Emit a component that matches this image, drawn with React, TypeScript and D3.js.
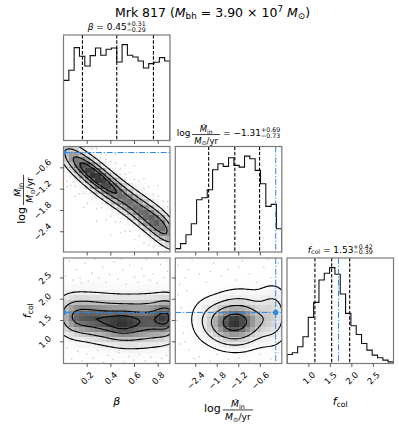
import React from 'react';
import * as d3 from 'd3';

// 1D marginal histograms (20 bins each)
const betaHist = [180, 210, 278, 252, 223, 254, 277, 255, 273, 277, 235, 287, 255, 250, 238, 217, 230, 234, 248, 238];
const mdotHist = [10, 25, 52, 85, 157, 163, 187, 247, 265, 257, 283, 260, 255, 288, 280, 245, 205, 137, 143, 70];
const fcolHist = [27, 32, 50, 80, 138, 183, 250, 270, 287, 267, 208, 150, 113, 87, 60, 40, 25, 17, 10, 5];

// axis ranges & ticks
const betaRange = [0, 0.9];
const mdotRange = [-2.97, 0];
const fcolRange = [0.49, 2.97];
const betaTicks = [0.2, 0.4, 0.6, 0.8];
const mdotTicks = [-2.4, -1.8, -1.2, -0.6];
const fcolTicks = [1.0, 1.5, 2.0, 2.5];

// 16/50/84 quantiles shown as dashed lines
const betaQuant = [0.16, 0.45, 0.76];
const mdotQuant = [-2.04, -1.31, -0.62];
const fcolQuant = [1.14, 1.53, 1.95];

// truth values (blue)
const truthBeta = 0.0;
const truthMdot = -0.17;
const truthFcol = 1.69;

// 2D posterior shapes as blobs: [mx, my, sx, sy, rho, weight]
const betaMdotBlobs = [
  [0.03, -0.23, 0.1, 0.417, -0.61, 0.7],
  [0.17, -0.58, 0.1, 0.417, -0.61, 1.0],
  [0.31, -0.94, 0.1, 0.417, -0.61, 1.1],
  [0.46, -1.32, 0.1, 0.417, -0.61, 0.95],
  [0.62, -1.73, 0.1, 0.43, -0.6, 0.95],
  [0.76, -2.09, 0.1, 0.44, -0.59, 0.85],
  [0.88, -2.39, 0.1, 0.44, -0.59, 1.0],
];
const betaFcolBlobs = [
  [0.04, 1.6, 0.1, 0.36, 0, 0.7],
  [0.17, 1.56, 0.11, 0.34, 0, 0.9],
  [0.32, 1.5, 0.11, 0.36, 0, 0.9],
  [0.48, 1.44, 0.11, 0.34, 0, 1.05],
  [0.63, 1.47, 0.11, 0.36, 0, 0.9],
  [0.78, 1.52, 0.1, 0.36, 0, 0.85],
  [0.9, 1.58, 0.08, 0.34, 0, 0.8],
  [0.45, 1.95, 0.45, 0.5, 0, 1.5],
  [0.7, 1.0, 0.25, 0.3, 0, 0.4],
];
const mdotFcolBlobs = [
  [-1.55, 1.45, 0.4, 0.3, 0, 0.6],
  [-1.0, 1.48, 0.4, 0.32, 0, 0.55],
  [-1.2, 1.95, 0.7, 0.45, 0, 0.35],
  [-2.25, 1.55, 0.35, 0.4, 0, 0.15],
  [-0.2, 1.62, 0.3, 0.45, 0, 0.4],
  [-1.3, 1.0, 0.6, 0.3, 0, 0.18],
];

// stray samples outside the outer contour
const betaMdotDots = [
  [0.03, -0.98], [0.03, -1.13], [0.06, -1.1], [0.1, -1.12], [0.1, -1.4], [0.13, -1.33],
  [0.17, -1.33], [0.17, -1.72], [0.2, -1.6], [0.24, -1.5], [0.24, -0.06], [0.28, -1.76],
  [0.28, -2.1], [0.28, -0.06], [0.32, -1.72], [0.32, -0.22], [0.36, -2.06], [0.36, -0.22],
  [0.36, -0.37], [0.4, -1.96], [0.4, -2.5], [0.4, -0.42], [0.44, -2.12], [0.44, -0.47],
  [0.44, -0.22], [0.48, -2.12], [0.48, -2.42], [0.48, -0.62], [0.52, -2.38], [0.52, -0.78],
  [0.52, -0.53], [0.56, -2.38], [0.56, -0.73], [0.6, -2.62], [0.6, -0.93], [0.6, -0.55],
  [0.64, -2.52], [0.64, -0.98], [0.68, -2.72], [0.68, -1.18], [0.68, -0.9], [0.72, -2.78],
  [0.72, -1.14], [0.76, -1.34], [0.76, -2.82], [0.8, -1.4], [0.8, -1.1], [0.84, -1.54],
  [0.88, -1.54], [0.88, -1.7],
];
const betaFcolDots = [
  [0.02, 2.55], [0.05, 2.9], [0.08, 2.45], [0.11, 2.7], [0.14, 2.5], [0.18, 2.85], [0.21, 2.42],
  [0.24, 2.62], [0.27, 2.95], [0.3, 2.5], [0.33, 2.75], [0.36, 2.4], [0.39, 2.58], [0.43, 2.88],
  [0.46, 2.47], [0.5, 2.68], [0.53, 2.35], [0.56, 2.8], [0.6, 2.52], [0.63, 2.4], [0.66, 2.72],
  [0.7, 2.93], [0.73, 2.45], [0.76, 2.6], [0.79, 2.38], [0.82, 2.82], [0.85, 2.5], [0.88, 2.66],
  [0.15, 2.38], [0.48, 2.95], [0.68, 2.55], [0.87, 2.9],
  [0.03, 0.85], [0.07, 0.6], [0.12, 0.78], [0.16, 0.55], [0.2, 0.72], [0.25, 0.62], [0.29, 0.8],
  [0.34, 0.52], [0.38, 0.68], [0.42, 0.58], [0.47, 0.75], [0.51, 0.53], [0.55, 0.66], [0.59, 0.57],
  [0.64, 0.7], [0.69, 0.55], [0.74, 0.64], [0.78, 0.52], [0.83, 0.6], [0.87, 0.68], [0.89, 0.55],
];
const mdotFcolDots = [
  [-2.9, 2.8], [-2.7, 2.5], [-2.5, 2.9], [-2.3, 2.6], [-2.1, 2.4], [-1.9, 2.85], [-1.7, 2.55],
  [-1.5, 2.7], [-1.3, 2.45], [-1.1, 2.9], [-0.9, 2.6], [-0.7, 2.4], [-0.5, 2.75], [-0.3, 2.5],
  [-0.1, 2.85], [-2.6, 2.7], [-2.0, 2.65], [-1.2, 2.75], [-0.4, 2.95], [-2.85, 2.35],
  [-2.9, 2.1], [-2.8, 1.8], [-2.92, 1.5], [-2.75, 1.2], [-2.85, 0.95], [-2.65, 2.2], [-2.7, 1.0],
  [-2.6, 0.8], [-2.3, 0.65], [-2.0, 0.55], [-1.8, 0.7], [-1.5, 0.58], [-1.2, 0.62], [-0.9, 0.55],
  [-0.6, 0.7], [-0.3, 0.6], [-0.1, 0.75], [-2.45, 0.6], [-1.0, 0.75], [-0.05, 2.2], [-0.1, 1.0],
];

const FONT = 'DejaVu Sans, sans-serif';
const TRUTH = '#2a8ae6';
const SPINE = '#7a7a7a';

const ranges = [betaRange, mdotRange, fcolRange];
const tickSets = [betaTicks, mdotTicks, fcolTicks];
const hists = [betaHist, mdotHist, fcolHist];
const quants = [betaQuant, mdotQuant, fcolQuant];
const truths = [truthBeta, truthMdot, truthFcol];

const colX = [63.5, 175.3, 287];
const rowY = [35, 146.5, 258];
const PW = 106.5;
const PH = 105.5;

const xScale = (c: number) => d3.scaleLinear().domain(ranges[c]).range([colX[c], colX[c] + PW]);
const yScale = (r: number) => d3.scaleLinear().domain(ranges[r]).range([rowY[r] + PH, rowY[r]]);

const LEVELS = [0.5, 1, 1.5, 2].map((s) => 1 - Math.exp(-0.5 * s * s));
const fmt = d3.format('.1f');

const CW: Record<string, number> = { '.': 0.318, '−': 0.838, '+': 0.838, '=': 0.838, ' ': 0.318 };
const textW = (s: string, fs: number) => [...s].reduce((a, ch) => a + (CW[ch] ?? 0.636), 0) * fs;

function dens(blobs: number[][], x: number, y: number) {
  let s = 0;
  for (const [mx, my, sx, sy, r, w] of blobs) {
    const dx = (x - mx) / sx;
    const dy = (y - my) / sy;
    const q = (dx * dx - 2 * r * dx * dy + dy * dy) / (1 - r * r);
    s += (w / (2 * Math.PI * sx * sy * Math.sqrt(1 - r * r))) * Math.exp(-0.5 * q);
  }
  return s;
}

function Hist1D({ i }: { i: number }) {
  const xs = xScale(i);
  const counts = hists[i];
  const ys = d3.scaleLinear().domain([0, 1.1 * (d3.max(counts) as number)]).range([rowY[i] + PH, rowY[i]]);
  const n = counts.length;
  const [a, b] = ranges[i];
  const edge = (k: number) => a + (k * (b - a)) / n;
  let d = `M${xs(edge(0))},${ys(0)}`;
  counts.forEach((c, k) => {
    d += `L${xs(edge(k))},${ys(c)}L${xs(edge(k + 1))},${ys(c)}`;
  });
  d += `L${xs(edge(n))},${ys(0)}`;
  const id = `clip-h-${i}`;
  return (
    <g>
      <clipPath id={id}>
        <rect x={colX[i]} y={rowY[i]} width={PW} height={PH} />
      </clipPath>
      <g clipPath={`url(#${id})`}>
        <path d={d} fill="none" stroke="#111" strokeWidth={1.1} />
        {quants[i].map((q) => (
          <line key={q} x1={xs(q)} x2={xs(q)} y1={rowY[i]} y2={rowY[i] + PH} stroke="#000" strokeWidth={1.1} strokeDasharray="3.5,1.8" />
        ))}
        <line x1={xs(truths[i])} x2={xs(truths[i])} y1={rowY[i]} y2={rowY[i] + PH} stroke={TRUTH} strokeWidth={1} strokeDasharray="6,1.8,1.2,1.8" />
      </g>
      <rect x={colX[i]} y={rowY[i]} width={PW} height={PH} fill="none" stroke={SPINE} strokeWidth={1.2} />
    </g>
  );
}

function Panel2D({ col, row, blobs, dots }: { col: number; row: number; blobs: number[][]; dots: number[][] }) {
  const xs = xScale(col);
  const ys = yScale(row);
  const [xa, xb] = ranges[col];
  const [ya, yb] = ranges[row];
  const N = 80;
  const pad = 0.2;
  const gx0 = xa - pad * (xb - xa);
  const gdx = ((xb - xa) * (1 + 2 * pad)) / N;
  const gy0 = ya - pad * (yb - ya);
  const gdy = ((yb - ya) * (1 + 2 * pad)) / N;
  const vals: number[] = new Array(N * N);
  const inside: number[] = [];
  for (let j = 0; j < N; j++) {
    for (let i = 0; i < N; i++) {
      const x = gx0 + (i + 0.5) * gdx;
      const y = gy0 + (j + 0.5) * gdy;
      const v = dens(blobs, x, y);
      vals[j * N + i] = v;
      if (x >= xa && x <= xb && y >= ya && y <= yb) inside.push(v);
    }
  }
  inside.sort((p, q) => q - p);
  const tot = d3.sum(inside);
  const cum: number[] = [];
  let acc = 0;
  inside.forEach((v) => {
    acc += v;
    cum.push(acc / tot);
  });
  const V = LEVELS.map((L) => {
    let k = 0;
    while (k < cum.length && cum[k] <= L) k++;
    return inside[Math.max(k - 1, 0)];
  }).sort((p, q) => p - q);

  const contours = d3.contours().size([N, N]).thresholds(V)(vals);
  const proj = d3.geoTransform({
    point(this: any, x: number, y: number) {
      this.stream.point(xs(gx0 + x * gdx), ys(gy0 + y * gdy));
    },
  });
  const path = d3.geoPath(proj);

  // 20x20 density cells
  const NB = 20;
  const cells: { x: number; y: number; v: number }[] = [];
  for (let bj = 0; bj < NB; bj++) {
    for (let bi = 0; bi < NB; bi++) {
      let s = 0;
      for (let u = 0; u < 3; u++) {
        for (let w = 0; w < 3; w++) {
          s += dens(blobs, xa + ((bi + (u + 0.5) / 3) * (xb - xa)) / NB, ya + ((bj + (w + 0.5) / 3) * (yb - ya)) / NB);
        }
      }
      cells.push({ x: bi, y: bj, v: s / 9 });
    }
  }
  const vmax = (d3.max(cells, (c) => c.v) as number) * 1.12;
  const cw = PW / NB;
  const ch = PH / NB;
  const id = `clip-${row}-${col}`;
  return (
    <g>
      <clipPath id={id}>
        <rect x={colX[col]} y={rowY[row]} width={PW} height={PH} />
      </clipPath>
      <g clipPath={`url(#${id})`}>
        {dots.map(([x, y], k) => (
          <circle key={k} cx={xs(x)} cy={ys(y)} r={0.8} fill="#000" fillOpacity={0.22} />
        ))}
        <path d={path(contours[0] as any) || ''} fill="#fff" fillRule="evenodd" />
        <g shapeRendering="crispEdges">
          {cells.map((c, k) => {
            const t = 1 - c.v / vmax;
            const g = Math.round(t * 255);
            return (
              <rect key={k} x={colX[col] + c.x * cw} y={rowY[row] + PH - (c.y + 1) * ch} width={cw} height={ch} fill={`rgb(${g},${g},${g})`} fillOpacity={1 - t} />
            );
          })}
        </g>
        {contours.map((c, k) => (
          <path key={k} d={path(c as any) || ''} fill="none" stroke="#000" strokeWidth={1.1} />
        ))}
        <line x1={xs(truths[col])} x2={xs(truths[col])} y1={rowY[row]} y2={rowY[row] + PH} stroke={TRUTH} strokeWidth={1} strokeDasharray="6,1.8,1.2,1.8" />
        <line x1={colX[col]} x2={colX[col] + PW} y1={ys(truths[row])} y2={ys(truths[row])} stroke={TRUTH} strokeWidth={1} strokeDasharray="6,1.8,1.2,1.8" />
        <circle cx={xs(truths[col])} cy={ys(truths[row])} r={2.6} fill={TRUTH} />
      </g>
      <rect x={colX[col]} y={rowY[row]} width={PW} height={PH} fill="none" stroke={SPINE} strokeWidth={1.2} />
    </g>
  );
}

function logFrac(x0: number, base: number, fs: number, ffs: number) {
  const logW = 1.525 * fs;
  const fx = x0 + logW + 0.17 * fs;
  const fw = 3.3 * ffs;
  const bar = base - 0.16 * fs;
  const el = (
    <g>
      <text x={x0} y={base} fontSize={fs}>log</text>
      <line x1={fx} x2={fx + fw} y1={bar} y2={bar} stroke="#000" strokeWidth={0.75} />
      <text x={fx + fw / 2} y={bar - 0.27 * ffs} fontSize={ffs} textAnchor="middle">
        <tspan fontStyle="italic">Ṁ</tspan>
        <tspan fontSize={ffs * 0.7} dy={0.2 * ffs}>in</tspan>
      </text>
      <text x={fx + fw / 2} y={bar + 1.08 * ffs} fontSize={ffs} textAnchor="middle">
        <tspan fontStyle="italic">M</tspan>
        <tspan fontSize={ffs * 0.7} dy={0.2 * ffs}>⊙</tspan>
        <tspan dy={-0.2 * ffs}>/yr</tspan>
      </text>
    </g>
  );
  return { el, width: logW + 0.17 * fs + fw };
}

function Scripts({ x, y, fs, sup, sub }: { x: number; y: number; fs: number; sup: string; sub: string }) {
  const sfs = fs * 0.7;
  return (
    <g>
      <text x={x} y={y - 0.4 * fs} fontSize={sfs}>{sup}</text>
      <text x={x} y={y + 0.22 * fs} fontSize={sfs}>{sub}</text>
    </g>
  );
}

function Titles() {
  const fs = 9;
  const ffs = 8.5;
  const sw = (a: string, b: string) => Math.max(textW(a, fs * 0.7), textW(b, fs * 0.7));
  // beta
  const bHead = 0.6 * fs + textW(' = 0.45', fs);
  const bTot = bHead + sw('+0.31', '−0.29');
  const bx = colX[0] + PW / 2 - bTot / 2;
  // mdot
  const lf0 = logFrac(0, 0, fs, ffs);
  const mTail = textW(' = −1.31', fs);
  const mTot = lf0.width + mTail + sw('+0.69', '−0.73');
  const mx = colX[1] + PW / 2 - mTot / 2;
  const mBase = 136;
  const lf = logFrac(mx, mBase, fs, ffs);
  // fcol
  const fHead = (0.352 + 1.44 * 0.7) * fs + textW(' = 1.53', fs);
  const fTot = fHead + sw('+0.42', '−0.39');
  const fx = colX[2] + PW / 2 - fTot / 2;
  return (
    <g>
      <text x={bx} y={30} fontSize={fs}>
        <tspan fontStyle="italic">β</tspan> = 0.45
      </text>
      <Scripts x={bx + bHead} y={30} fs={fs} sup="+0.31" sub="−0.29" />
      {lf.el}
      <text x={mx + lf.width} y={mBase} fontSize={fs} style={{ whiteSpace: 'pre' }}>{' = −1.31'}</text>
      <Scripts x={mx + lf.width + mTail} y={mBase} fs={fs} sup="+0.69" sub="−0.73" />
      <text x={fx} y={252.5} fontSize={fs}>
        <tspan fontStyle="italic">f</tspan>
        <tspan fontSize={fs * 0.7} dy={0.2 * fs}>col</tspan>
        <tspan dy={-0.2 * fs}> = 1.53</tspan>
      </text>
      <Scripts x={fx + fHead} y={252.5} fs={fs} sup="+0.42" sub="−0.39" />
    </g>
  );
}

function Axes() {
  const fs = 8.5;
  const bottom = rowY[2] + PH;
  const items: JSX.Element[] = [];
  // bottom tick marks for every panel, left tick marks for 2D panels
  for (let r = 0; r < 3; r++) {
    for (let c = 0; c <= r; c++) {
      const xs = xScale(c);
      const yb = rowY[r] + PH;
      tickSets[c].forEach((t) => {
        items.push(<line key={`bx${r}${c}${t}`} x1={xs(t)} x2={xs(t)} y1={yb} y2={yb + 3.5} stroke="#333" strokeWidth={0.8} />);
      });
      if (c < r) {
        const ys = yScale(r);
        tickSets[r].forEach((t) => {
          items.push(<line key={`ly${r}${c}${t}`} x1={colX[c] - 3.5} x2={colX[c]} y1={ys(t)} y2={ys(t)} stroke="#333" strokeWidth={0.8} />);
        });
      }
    }
  }
  // x tick labels (bottom row)
  for (let c = 0; c < 3; c++) {
    const xs = xScale(c);
    tickSets[c].forEach((t) => {
      const s = fmt(t);
      const side = (textW(s, fs) + 0.73 * fs) / Math.SQRT2;
      items.push(
        <text key={`xl${c}${t}`} transform={`translate(${xs(t)},${bottom + 7.5 + side / 2}) rotate(-45)`} textAnchor="middle" dominantBaseline="central" fontSize={fs}>{s}</text>
      );
    });
  }
  // y tick labels (left column)
  for (let r = 1; r < 3; r++) {
    const ys = yScale(r);
    tickSets[r].forEach((t) => {
      const s = fmt(t);
      const side = (textW(s, fs) + 0.73 * fs) / Math.SQRT2;
      items.push(
        <text key={`yl${r}${t}`} transform={`translate(${52 - side / 2},${ys(t)}) rotate(-45)`} textAnchor="middle" dominantBaseline="central" fontSize={fs}>{s}</text>
      );
    });
  }
  return <g>{items}</g>;
}

function AxisLabels() {
  const fs = 11;
  const ffs = 9.2;
  const lw = logFrac(0, 0, fs, ffs).width;
  const bottomFrac = logFrac(colX[1] + PW / 2 - lw / 2, 411.7, fs, ffs);
  const leftFrac = logFrac(-lw / 2, 0, fs, ffs);
  return (
    <g>
      <text x={colX[0] + PW / 2} y={405} fontSize={fs} textAnchor="middle" fontStyle="italic">β</text>
      {bottomFrac.el}
      <text x={colX[2] + PW / 2} y={404.5} fontSize={fs} textAnchor="middle">
        <tspan fontStyle="italic">f</tspan>
        <tspan fontSize={fs * 0.7} dy={0.2 * fs}>col</tspan>
      </text>
      <g transform={`translate(25.3,${rowY[1] + PH / 2}) rotate(-90)`}>{leftFrac.el}</g>
      <g transform={`translate(30.5,${rowY[2] + PH / 2}) rotate(-90)`}>
        <text x={0} y={0} fontSize={fs} textAnchor="middle">
          <tspan fontStyle="italic">f</tspan>
          <tspan fontSize={fs * 0.7} dy={0.2 * fs}>col</tspan>
        </text>
      </g>
    </g>
  );
}

export default function App() {
  return (
    <div style={{ position: 'fixed', left: 0, top: 0 }}>
      <svg width={399} height={428} fontFamily={FONT} style={{ display: 'block', background: '#fff' }}>
        <text x={212.5} y={16.7} fontSize={12.5} textAnchor="middle">
          Mrk 817 (<tspan fontStyle="italic">M</tspan>
          <tspan fontSize={8.8} dy={2.5}>bh</tspan>
          <tspan dy={-2.5}> = 3.90 × 10</tspan>
          <tspan fontSize={8.8} dy={-5}>7</tspan>
          <tspan dy={5}> </tspan>
          <tspan fontStyle="italic">M</tspan>
          <tspan fontSize={8.8} dy={2.5}>⊙</tspan>
          <tspan dy={-2.5}>)</tspan>
        </text>
        <Hist1D i={0} />
        <Hist1D i={1} />
        <Hist1D i={2} />
        <Panel2D col={0} row={1} blobs={betaMdotBlobs} dots={betaMdotDots} />
        <Panel2D col={0} row={2} blobs={betaFcolBlobs} dots={betaFcolDots} />
        <Panel2D col={1} row={2} blobs={mdotFcolBlobs} dots={mdotFcolDots} />
        <Axes />
        <Titles />
        <AxisLabels />
      </svg>
    </div>
  );
}
